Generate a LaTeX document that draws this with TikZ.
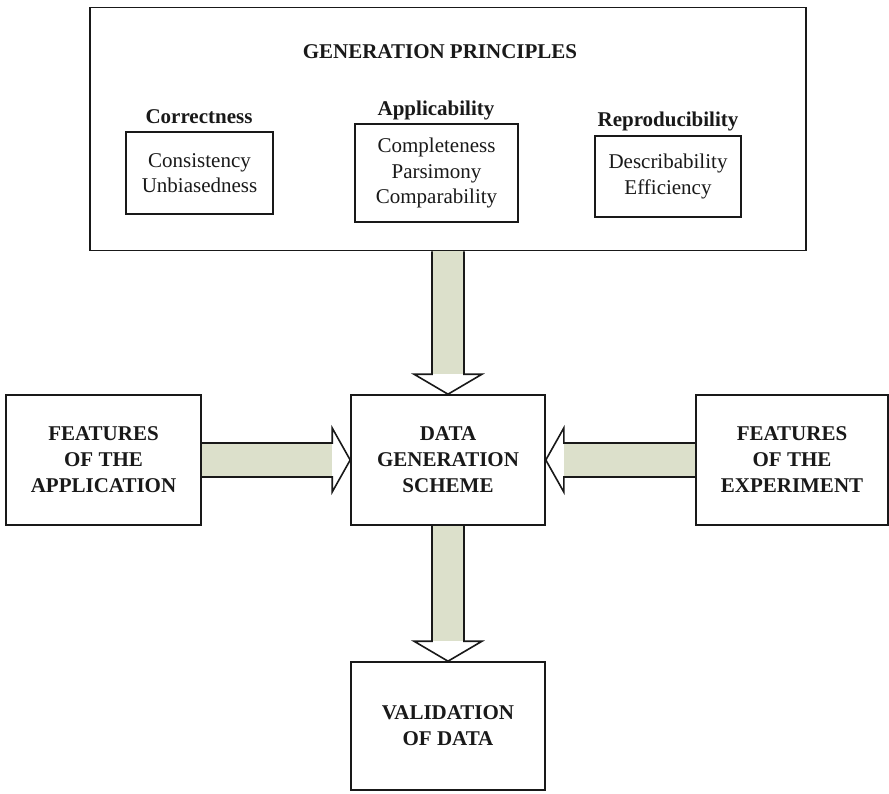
\documentclass[tikz,border=0pt]{standalone}
\usepackage{fontspec}
\setmainfont{Liberation Serif}
\usetikzlibrary{calc}
\definecolor{shaftcol}{RGB}{220,224,203}
\definecolor{inkcol}{RGB}{25,25,25}
\tikzset{
  box/.style={draw=inkcol, line width=1.6pt, inner sep=0pt, align=center,
    text=inkcol, font=\bfseries\fontsize{21}{26}\selectfont},
  subbox/.style={draw=inkcol, line width=1.6pt, inner sep=0pt, align=center,
    text=inkcol, font=\fontsize{21}{25.5}\selectfont},
  heading/.style={anchor=base, inner sep=0pt, text=inkcol,
    font=\bfseries\fontsize{21}{25}\selectfont},
  outline/.style={draw=inkcol, line width=1.6pt, line join=miter},
}
% block arrow pointing down from #1 to #2
\newcommand{\downblock}[2]{%
  \fill[shaftcol] ([xshift=-16pt]#1) rectangle ([xshift=16pt,yshift=20pt]#2);
  \fill[white] ([xshift=-34pt,yshift=20pt]#2) -- (#2) -- ([xshift=34pt,yshift=20pt]#2) -- cycle;
  \draw[outline] ([xshift=-16pt]#1) -- ([xshift=-16pt,yshift=20pt]#2)
    -- ([xshift=-34pt,yshift=20pt]#2) -- (#2) -- ([xshift=34pt,yshift=20pt]#2)
    -- ([xshift=16pt,yshift=20pt]#2) -- ([xshift=16pt]#1);
}
% block arrow pointing right from #1 to #2
\newcommand{\rightblock}[2]{%
  \fill[shaftcol] ([yshift=17pt]#1) rectangle ([xshift=-18pt,yshift=-17pt]#2);
  \fill[white] ([xshift=-18pt,yshift=32pt]#2) -- (#2) -- ([xshift=-18pt,yshift=-32pt]#2) -- cycle;
  \draw[outline] ([yshift=17pt]#1) -- ([xshift=-18pt,yshift=17pt]#2)
    -- ([xshift=-18pt,yshift=32pt]#2) -- (#2) -- ([xshift=-18pt,yshift=-32pt]#2)
    -- ([xshift=-18pt,yshift=-17pt]#2) -- ([yshift=-17pt]#1);
}
% block arrow pointing left from #1 to #2
\newcommand{\leftblock}[2]{%
  \fill[shaftcol] ([yshift=17pt]#1) rectangle ([xshift=18pt,yshift=-17pt]#2);
  \fill[white] ([xshift=18pt,yshift=32pt]#2) -- (#2) -- ([xshift=18pt,yshift=-32pt]#2) -- cycle;
  \draw[outline] ([yshift=17pt]#1) -- ([xshift=18pt,yshift=17pt]#2)
    -- ([xshift=18pt,yshift=32pt]#2) -- (#2) -- ([xshift=18pt,yshift=-32pt]#2)
    -- ([xshift=18pt,yshift=-17pt]#2) -- ([yshift=-17pt]#1);
}
\begin{document}
\begin{tikzpicture}[x=1pt, y=-1pt]
\useasboundingbox[fill=white] (0,0) rectangle (889,794);

% principles panel
\node[box, minimum width=716pt, minimum height=243pt] (gp) at (448,129) {};
\node[heading] (gptitle) at (440,59) {GENERATION PRINCIPLES};

\node[subbox, minimum width=147pt, minimum height=82pt] (corr) at (199.5,173)
  {Consistency\\Unbiasedness};
\node[heading] (corrlab) at (199,124) {Correctness};

\node[subbox, minimum width=163pt, minimum height=98pt] (appl) at (436.5,173)
  {Completeness\\Parsimony\\Comparability};
\node[heading] (appllab) at (436,116) {Applicability};

\node[subbox, minimum width=146pt, minimum height=81pt] (repr) at (668,176.5)
  {Describability\\Efficiency};
\node[heading] (reprlab) at (668,127) {Reproducibility};

% main row
\node[box, minimum width=195pt, minimum height=130pt] (app) at (103.5,460)
  {FEATURES\\OF THE\\APPLICATION};
\node[box, minimum width=194pt, minimum height=130pt] (dgs) at (448,460)
  {DATA\\GENERATION\\SCHEME};
\node[box, minimum width=192pt, minimum height=130pt] (exp) at (792,460)
  {FEATURES\\OF THE\\EXPERIMENT};

\node[box, minimum width=194pt, minimum height=128pt] (val) at (448,726)
  {VALIDATION\\OF DATA};

% connectors
\downblock{gp.south}{dgs.north}
\downblock{dgs.south}{val.north}
\rightblock{app.east}{dgs.west}
\leftblock{exp.west}{dgs.east}
\end{tikzpicture}
\end{document}
